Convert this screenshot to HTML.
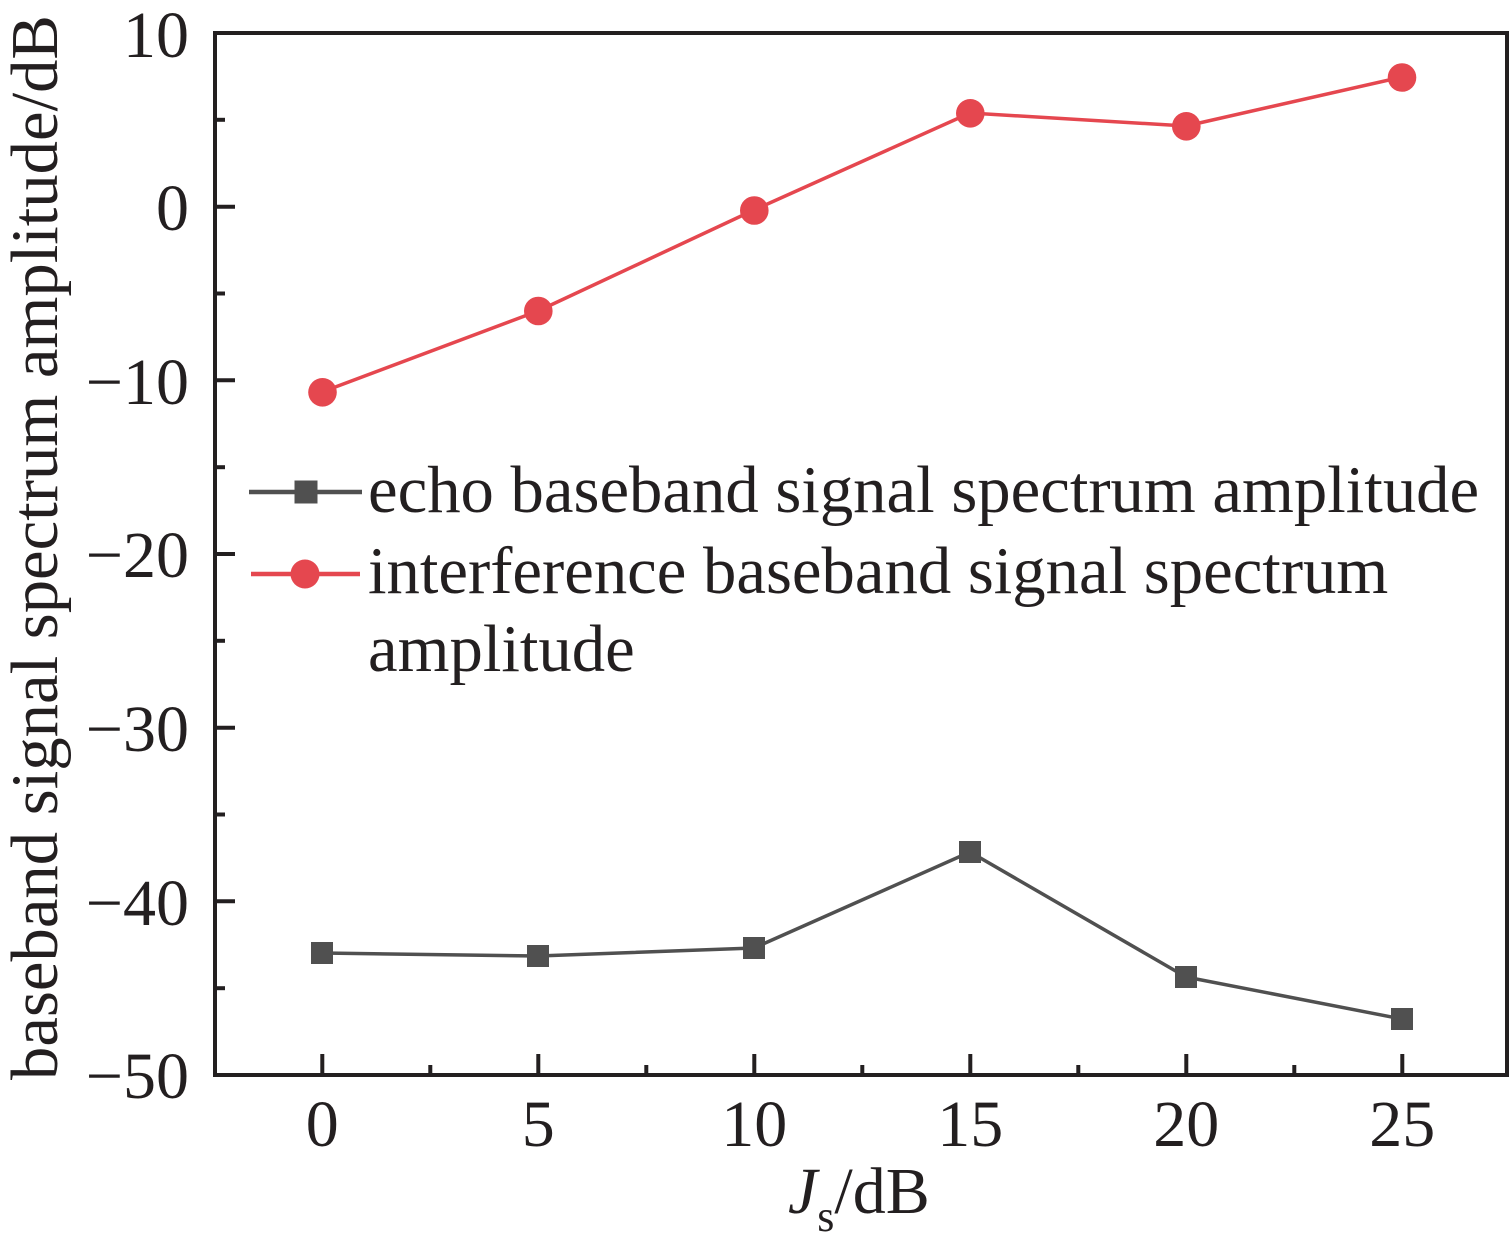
<!DOCTYPE html>
<html>
<head>
<meta charset="utf-8">
<style>
html,body{margin:0;padding:0;background:#fff;}
svg{display:block;}
text{font-family:"Liberation Serif","Times New Roman",serif;fill:#231f20;}
</style>
</head>
<body>
<svg width="1512" height="1254" viewBox="0 0 1512 1254" xmlns="http://www.w3.org/2000/svg">
<rect width="1512" height="1254" fill="#fff"/>

<!-- axes frame -->
<rect x="215" y="33" width="1292" height="1042" fill="none" stroke="#231f20" stroke-width="4"/>

<!-- y ticks -->
<g stroke="#231f20" stroke-width="4">
  <line x1="215" y1="33" x2="235" y2="33"/>
  <line x1="215" y1="206.7" x2="235" y2="206.7"/>
  <line x1="215" y1="380.3" x2="235" y2="380.3"/>
  <line x1="215" y1="554" x2="235" y2="554"/>
  <line x1="215" y1="727.7" x2="235" y2="727.7"/>
  <line x1="215" y1="901.3" x2="235" y2="901.3"/>
  <line x1="215" y1="119.8" x2="225" y2="119.8"/>
  <line x1="215" y1="293.5" x2="225" y2="293.5"/>
  <line x1="215" y1="467.2" x2="225" y2="467.2"/>
  <line x1="215" y1="640.8" x2="225" y2="640.8"/>
  <line x1="215" y1="814.5" x2="225" y2="814.5"/>
  <line x1="215" y1="988.2" x2="225" y2="988.2"/>
  <!-- x ticks -->
  <line x1="322.3" y1="1075" x2="322.3" y2="1054"/>
  <line x1="538.3" y1="1075" x2="538.3" y2="1054"/>
  <line x1="754.3" y1="1075" x2="754.3" y2="1054"/>
  <line x1="970.3" y1="1075" x2="970.3" y2="1054"/>
  <line x1="1186.3" y1="1075" x2="1186.3" y2="1054"/>
  <line x1="1402.3" y1="1075" x2="1402.3" y2="1054"/>
  <line x1="430.3" y1="1075" x2="430.3" y2="1065"/>
  <line x1="646.3" y1="1075" x2="646.3" y2="1065"/>
  <line x1="862.3" y1="1075" x2="862.3" y2="1065"/>
  <line x1="1078.3" y1="1075" x2="1078.3" y2="1065"/>
  <line x1="1294.3" y1="1075" x2="1294.3" y2="1065"/>
</g>

<!-- y tick labels -->
<g font-size="66" text-anchor="end">
  <text x="189" y="57">10</text>
  <text x="189" y="230">0</text>
  <text x="189" y="404">−10</text>
  <text x="189" y="577">−20</text>
  <text x="189" y="751">−30</text>
  <text x="189" y="925">−40</text>
  <text x="189" y="1098">−50</text>
</g>

<!-- x tick labels -->
<g font-size="66" text-anchor="middle">
  <text x="322.3" y="1146">0</text>
  <text x="538.3" y="1146">5</text>
  <text x="754.3" y="1146">10</text>
  <text x="970.3" y="1146">15</text>
  <text x="1186.3" y="1146">20</text>
  <text x="1402.3" y="1146">25</text>
</g>

<!-- axis labels -->
<text x="788" y="1213" font-size="66"><tspan font-style="italic">J</tspan><tspan font-size="44" dy="18">s</tspan><tspan dy="-18">/dB</tspan></text>
<text transform="translate(57,1080) rotate(-90)" font-size="66.7" text-anchor="start">baseband signal spectrum amplitude/dB</text>

<!-- echo series -->
<polyline points="322,953 538,956 754,948 970,852 1186,977 1402,1019" fill="none" stroke="#505050" stroke-width="3.5" stroke-linejoin="round"/>
<g fill="#505050">
  <rect x="311" y="942" width="22" height="22"/>
  <rect x="527" y="945" width="22" height="22"/>
  <rect x="743" y="937" width="22" height="22"/>
  <rect x="959" y="841" width="22" height="22"/>
  <rect x="1175" y="966" width="22" height="22"/>
  <rect x="1391" y="1008" width="22" height="22"/>
</g>

<!-- interference series -->
<polyline points="322,392 538,311 754,210 970,113 1186,126 1402,77" fill="none" stroke="#e5474f" stroke-width="3.5" stroke-linejoin="round"/>
<g fill="#e5474f">
  <circle cx="322.5" cy="392.3" r="14.3"/>
  <circle cx="538.3" cy="311" r="14.3"/>
  <circle cx="754.3" cy="210.5" r="14.3"/>
  <circle cx="970.3" cy="113.3" r="14.3"/>
  <circle cx="1186.3" cy="126.3" r="14.3"/>
  <circle cx="1402" cy="77.5" r="14.3"/>
</g>

<!-- legend -->
<line x1="249" y1="492" x2="362" y2="492" stroke="#505050" stroke-width="4.5"/>
<rect x="294.5" y="480.5" width="23" height="23" fill="#505050"/>
<line x1="251" y1="574" x2="360" y2="574" stroke="#e5474f" stroke-width="4.5"/>
<circle cx="305" cy="574" r="14.5" fill="#e5474f"/>
<g font-size="66.7">
  <text x="368" y="512">echo baseband signal spectrum amplitude</text>
  <text x="368" y="593">interference baseband signal spectrum</text>
  <text x="368" y="671">amplitude</text>
</g>
</svg>
</body>
</html>
